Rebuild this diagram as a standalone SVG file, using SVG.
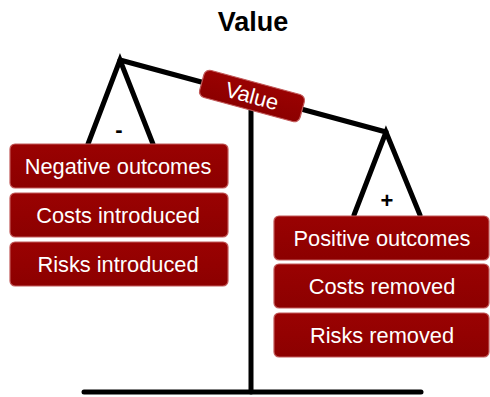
<svg xmlns="http://www.w3.org/2000/svg" width="490" height="397" viewBox="0 0 490 397">
<defs>
<linearGradient id="boxg" x1="0" y1="0" x2="0" y2="1">
<stop offset="0" stop-color="#9a0202"/>
<stop offset="1" stop-color="#8c0000"/>
</linearGradient>
<style>
.box{fill:url(#boxg);stroke:#c25a5a;stroke-width:1.2}
.lbl{font-family:"Liberation Sans",Arial,sans-serif;font-size:21.8px;fill:#ffffff;text-anchor:middle}
.bar{stroke:#000;stroke-width:5;fill:none;stroke-linecap:round;stroke-linejoin:miter}
.sign{font-family:"Liberation Sans",Arial,sans-serif;font-size:22px;font-weight:bold;fill:#000;text-anchor:middle}
</style>
</defs>
<rect width="490" height="397" fill="#ffffff"/>
<text x="253" y="31" font-family="'Liberation Sans',Arial,sans-serif" font-size="27" font-weight="bold" text-anchor="middle" fill="#000">Value</text>
<g id="connectors">
<line class="bar" x1="84" y1="392" x2="421" y2="392"/>
<line class="bar" x1="251" y1="96" x2="251" y2="392" stroke-linecap="butt"/>
<line class="bar" x1="120" y1="60" x2="386" y2="132"/>
<polyline class="bar" points="88,144 120,60 153,144" stroke-linecap="butt"/>
<polyline class="bar" points="354,215 386,132 420,215" stroke-linecap="butt"/>
</g>
<text class="sign" x="119" y="137">-</text>
<text class="sign" x="387" y="208">+</text>
<g id="value-label" transform="translate(252,96) rotate(15.1)">
<rect x="-52" y="-14" width="104" height="28" rx="6" class="box"/>
<text class="lbl" x="0" y="7.5" font-size="21">Value</text>
</g>
<g id="negative-outcomes">
<rect class="box" x="10" y="144" width="218" height="44" rx="5"/>
<text class="lbl" x="118" y="174">Negative outcomes</text>
</g>
<g id="costs-introduced">
<rect class="box" x="10" y="193" width="218" height="44" rx="5"/>
<text class="lbl" x="118" y="223">Costs introduced</text>
</g>
<g id="risks-introduced">
<rect class="box" x="10" y="242" width="218" height="44" rx="5"/>
<text class="lbl" x="118" y="272">Risks introduced</text>
</g>
<g id="positive-outcomes">
<rect class="box" x="274" y="216" width="215" height="44" rx="5"/>
<text class="lbl" x="382" y="246">Positive outcomes</text>
</g>
<g id="costs-removed">
<rect class="box" x="274" y="264" width="215" height="44" rx="5"/>
<text class="lbl" x="382" y="294">Costs removed</text>
</g>
<g id="risks-removed">
<rect class="box" x="274" y="313" width="215" height="44" rx="5"/>
<text class="lbl" x="382" y="343">Risks removed</text>
</g>
</svg>
